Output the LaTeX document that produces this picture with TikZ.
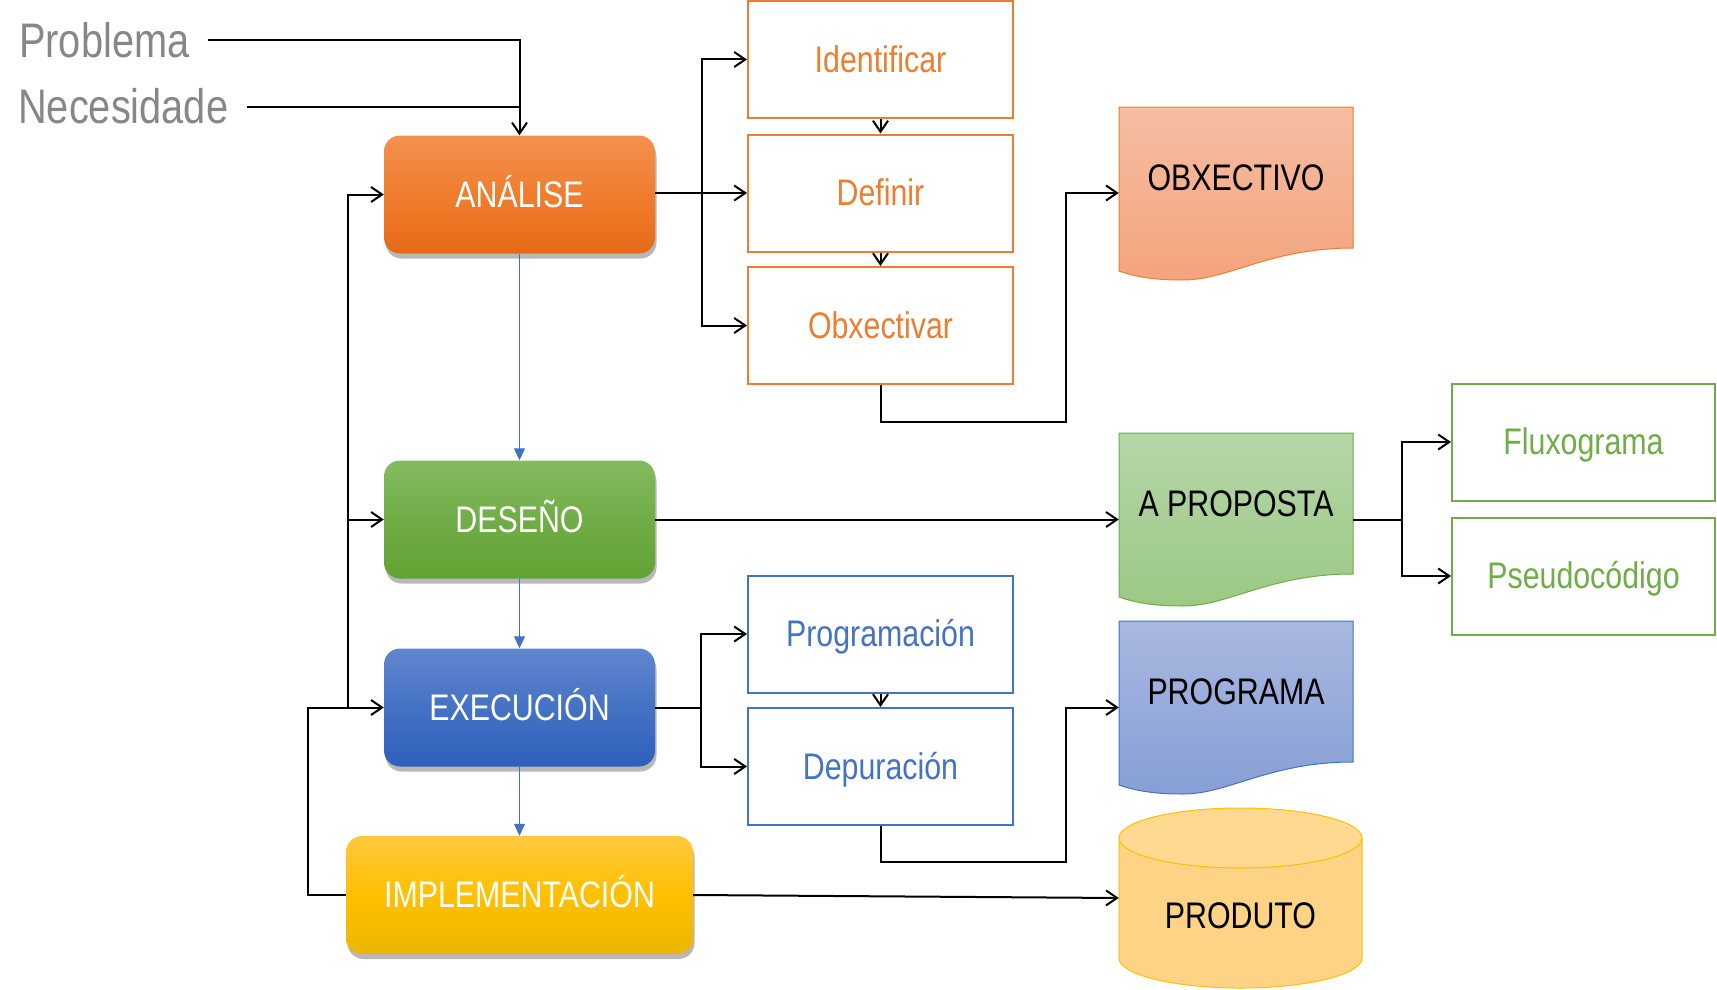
\documentclass[tikz,border=0pt]{standalone}
\usepackage{fontspec}
\setmainfont{Liberation Sans}[FakeStretch=0.82]
\usetikzlibrary{arrows.meta,shadows,calc}
\definecolor{cOr}{HTML}{ED7D31}
\definecolor{cGr}{HTML}{70AD47}
\definecolor{cBl}{HTML}{4472C4}
\definecolor{cGo}{HTML}{FFC000}
\definecolor{cGray}{HTML}{878787}
\definecolor{orTop}{HTML}{F4904F}
\definecolor{orMid}{HTML}{F07D2E}
\definecolor{orBot}{HTML}{E66A17}
\definecolor{grTop}{HTML}{85BB60}
\definecolor{grMid}{HTML}{70AD47}
\definecolor{grBot}{HTML}{62A233}
\definecolor{blTop}{HTML}{6286CE}
\definecolor{blMid}{HTML}{4472C4}
\definecolor{blBot}{HTML}{2E5FBA}
\definecolor{goTop}{HTML}{FFC83F}
\definecolor{goMid}{HTML}{FFC000}
\definecolor{goBot}{HTML}{EAB700}
\definecolor{dOrTop}{HTML}{F6BDA2}
\definecolor{dOrBot}{HTML}{F4A47E}
\definecolor{dGrTop}{HTML}{B6D6A8}
\definecolor{dGrBot}{HTML}{9BC985}
\definecolor{dBlTop}{HTML}{A9B8E0}
\definecolor{dBlBot}{HTML}{879FD6}
\definecolor{cylBody}{HTML}{FDD485}
\definecolor{cylTop}{HTML}{FED98F}
\newcommand{\docpath}[4]{%
  \path[draw=#4, line width=1pt, top color=#2, bottom color=#3, shift={(1119,#1)}]
   (0,0) -- (234,0) -- (234,141) .. controls (150,141) and (110,173) .. (64,173)
   .. controls (40,173) and (20,171) .. (0,164) -- cycle;}
\tikzset{
  lbl/.style={font=\fontsize{37}{42}\selectfont, text height=25.5pt, text depth=0pt, inner sep=0pt},
  big/.style={font=\fontsize{48.5}{54}\selectfont, text height=33.4pt, text depth=0pt, inner sep=0pt, text=cGray},
  stage/.style={lbl, rounded corners=16pt, minimum height=118, text=white,
     drop shadow={shadow xshift=1.5pt, shadow yshift=-5pt, opacity=0.28, fill=black}},
  sub/.style={lbl, draw=#1, text=#1, line width=2pt, minimum width=265, minimum height=117, fill=white},
  docn/.style={lbl, minimum width=234, minimum height=141, text=black},
  conn/.style={line width=2pt, -{Straight Barb[length=11pt,width=15pt]}},
  plain/.style={line width=2pt},
  barr/.style={cBl, line width=1.2pt, -{Triangle[length=12pt,width=11pt]}}
}
\begin{document}
\begin{tikzpicture}[x=1pt,y=-1pt]
\useasboundingbox (0,0) rectangle (1717,990);

% inputs
\node[big, anchor=west] (prob) at (19,40.5) {Problema};
\node[big, anchor=west] (nec) at (18,106.5) {Necesidade};

% stages
\node[stage, minimum width=271, top color=orTop, bottom color=orBot, middle color=orMid] (ana) at (519.5,194.5) {ANÁLISE};
\node[stage, minimum width=271, top color=grTop, bottom color=grBot, middle color=grMid] (des) at (519.5,519.5) {DESEÑO};
\node[stage, minimum width=271, top color=blTop, bottom color=blBot, middle color=blMid] (exe) at (519.5,707.5) {EXECUCIÓN};
\node[stage, minimum width=347, top color=goTop, bottom color=goBot, middle color=goMid] (imp) at (519.5,895) {IMPLEMENTACIÓN};

% sub boxes
\node[sub=cOr] (ide) at (880.5,59.5) {Identificar};
\node[sub=cOr] (def) at (880.5,193) {Definir};
\node[sub=cOr] (obx) at (880.5,325.5) {Obxectivar};
\node[sub=cBl] (prg) at (880.5,634) {Programación};
\node[sub=cBl] (dep) at (880.5,766.5) {Depuración};
\node[sub=cGr, minimum width=263] (flu) at (1583.5,442) {Fluxograma};
\node[sub=cGr, minimum width=263] (pse) at (1583.5,576) {Pseudocódigo};

% documents
\docpath{107}{dOrTop}{dOrBot}{cOr}
\node[docn] (obxd) at (1236,177.5) {OBXECTIVO};
\docpath{433}{dGrTop}{dGrBot}{cGr}
\node[docn] (apd) at (1236,503.5) {A PROPOSTA};
\docpath{621}{dBlTop}{dBlBot}{cBl}
\node[docn] (prgd) at (1236,691.5) {PROGRAMA};

% cylinder
\path[fill=cylBody, draw=cGo, line width=1pt]
  (1119,838) -- (1119,958) .. controls (1119,974.57) and (1173.4,988) .. (1240.5,988)
  .. controls (1307.6,988) and (1362,974.57) .. (1362,958) -- (1362,838) -- cycle;
\path[fill=cylTop, draw=cGo, line width=1pt] (1240.5,838) ellipse [x radius=121.5, y radius=30];
\node[minimum width=243, minimum height=150, inner sep=0pt] (prodcyl) at (1240.5,898) {};
\node[lbl] (prod) at (1240.5,916) {PRODUTO};

% inputs to analysis
\draw[conn] ([xshift=18pt]prob.east) -| (ana.north);
\draw[plain] ([xshift=19pt]nec.east) -- (nec.east -| ana.north);

% analysis branch
\coordinate (brA) at (702,193);
\draw[plain] (ana.east |- def) -- (brA);
\draw[conn] (brA) -- (def.west);
\draw[conn] (brA) |- (ide.west);
\draw[conn] (brA) |- (obx.west);
\draw[conn] (ide.south) -- (def.north);
\draw[conn] (def.south) -- (obx.north);
\coordinate (bendA) at (1065.5,422);
\draw[conn] (obx.south) |- (bendA) |- (def -| obxd.west);

% design
\draw[conn] (des.east) -- (des -| apd.west);
\coordinate (brP) at (1402,519.5);
\draw[plain] (des -| apd.east) -- (brP);
\draw[conn] (brP) |- (flu.west);
\draw[conn] (brP) |- (pse.west);

% execution
\coordinate (brE) at (701,707.5);
\draw[plain] (exe.east) -- (brE);
\draw[conn] (brE) |- (prg.west);
\draw[conn] (brE) |- (dep.west);
\draw[conn] (prg.south) -- (dep.north);
\coordinate (bendE) at (1065.5,862);
\draw[conn] (dep.south) |- (bendE) |- (exe -| prgd.west);

% implementation
\draw[conn] (imp.east) -- (prodcyl.west);

% main flow
\draw[barr] (ana.south) -- (des.north);
\draw[barr] (des.south) -- (exe.north);
\draw[barr] (exe.south) -- (imp.north);

% feedback loops
\coordinate (lx) at (348,707.5);
\coordinate (ox) at (308,895);
\draw[conn] (lx) |- (ana.west);
\draw[conn] (des -| lx) -- (des.west);
\draw[conn] (imp.west) -- (ox) |- (exe.west);
\end{tikzpicture}
\end{document}
